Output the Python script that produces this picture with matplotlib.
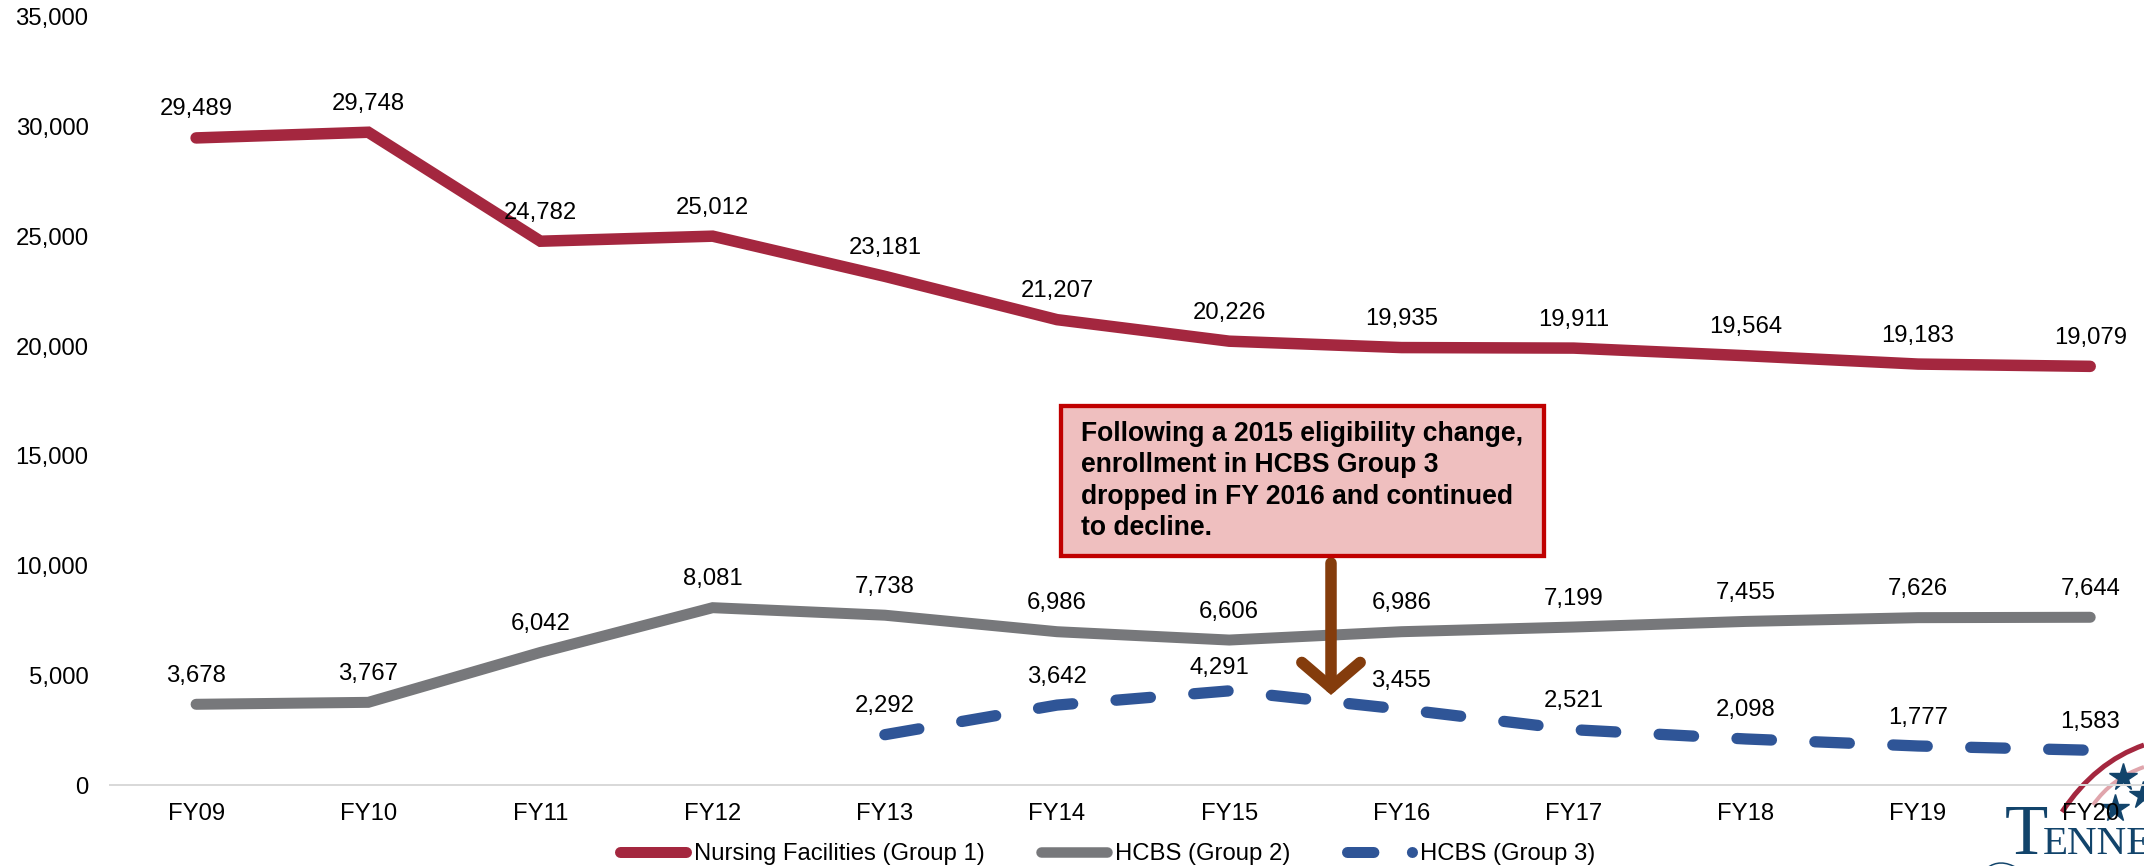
import matplotlib
matplotlib.use('Agg')
import matplotlib.pyplot as plt
from matplotlib.lines import Line2D
from matplotlib.patches import Rectangle, PathPatch
from matplotlib.path import Path

plt.rcParams['font.family'] = ['Liberation Sans', 'DejaVu Sans']

W, H = 2144, 866

years = ['FY09', 'FY10', 'FY11', 'FY12', 'FY13', 'FY14', 'FY15', 'FY16', 'FY17', 'FY18', 'FY19', 'FY20']
nursing = [29489, 29748, 24782, 25012, 23181, 21207, 20226, 19935, 19911, 19564, 19183, 19079]
hcbs2 = [3678, 3767, 6042, 8081, 7738, 6986, 6606, 6986, 7199, 7455, 7626, 7644]
hcbs3_years = years[4:]
hcbs3 = [2292, 3642, 4291, 3455, 2521, 2098, 1777, 1583]
yticks = [0, 5000, 10000, 15000, 20000, 25000, 30000, 35000]

RED = '#A4273F'
GRAY = '#77787B'
BLUE = '#2F5597'
NAVY = '#12446B'


def px(x, y):
    # full size pixel position to figure fraction
    return x / W, 1 - y / H


fig = plt.figure(figsize=(W / 100, H / 100), dpi=100)
ax = fig.add_axes([110 / W, 1 - 785 / H, (W - 110) / W, 768 / H])
ax.patch.set_visible(False)
xpos = list(range(len(years)))
ax.set_xlim(-0.5, (W - 196) / 172.2)
ax.set_ylim(0, 35000)

pxlw = 72 / 100  # one pixel in points
ax.plot(xpos, nursing, color=RED, lw=11.5 * pxlw, solid_capstyle='round', solid_joinstyle='miter', zorder=3)
ax.plot(xpos, hcbs2, color=GRAY, lw=11 * pxlw, solid_capstyle='round', solid_joinstyle='miter', zorder=3)
ax.plot(xpos[4:], hcbs3, color=BLUE, lw=11.3 * pxlw, dash_capstyle='round', dashes=(3.05, 3.85), zorder=3)

for x, v in zip(xpos, nursing):
    ax.annotate(f'{v:,}', (x, v), xytext=(0, 28.5 * pxlw), textcoords='offset points',
                ha='center', va='center', fontsize=17.2, color='black', zorder=5)
for x, v in zip(xpos, hcbs2):
    ax.annotate(f'{v:,}', (x, v), xytext=(0, 28.5 * pxlw), textcoords='offset points',
                ha='center', va='center', fontsize=17.2, color='black', zorder=5)
for x, v in zip(xpos[4:], hcbs3):
    # the FY15 label was nudged by hand in the original
    dx, dy = (-10, 23) if v == 4291 else (0, 28.5)
    ax.annotate(f'{v:,}', (x, v), xytext=(dx * pxlw, dy * pxlw), textcoords='offset points',
                ha='center', va='center', fontsize=17.2, color='black', zorder=5)

ax.set_xticks(xpos)
ax.set_xticklabels(years, fontsize=17.2, zorder=6)
ax.set_yticks(yticks)
ax.set_yticklabels([f'{t:,}' for t in yticks], fontsize=17.2)
ax.tick_params(axis='both', length=0)
ax.tick_params(axis='x', pad=13)
ax.tick_params(axis='y', pad=15.5)
for side in ['top', 'left', 'right']:
    ax.spines[side].set_visible(False)
ax.spines['bottom'].set_color('#D9D9D9')
ax.spines['bottom'].set_linewidth(2 * pxlw)

# callout box
box_x, box_y = px(1061, 556)
fig.add_artist(Rectangle((box_x, box_y), 483 / W, 150 / H, transform=fig.transFigure,
                         facecolor='#EFBFBF', edgecolor='#C00000', lw=4.3 * pxlw, zorder=7))
tx, ty = px(1081, 421)
fig.text(tx, ty, 'Following a 2015 eligibility change,\nenrollment in HCBS Group 3\n'
         'dropped in FY 2016 and continued\nto decline.',
         fontsize=19.1, fontweight='bold', ha='left', va='top', linespacing=1.27, color='black', zorder=8)

# arrow from the box down to the FY16 drop
tail = px(1331, 563)
tip = px(1331, 695)
ax.annotate('', xy=tip, xytext=tail, xycoords='figure fraction', textcoords='figure fraction',
            arrowprops=dict(arrowstyle='->,head_length=0.9,head_width=1.05', color='#843C0C',
                            lw=11.5 * pxlw, shrinkA=0, shrinkB=0, capstyle='round', joinstyle='miter',
                            mutation_scale=20), zorder=6)

# logo in the bottom right corner, cut off by the slide edge
for pts, col, lw in [([(2062, 812), (2095, 762), (2144, 745)], '#A4273F', 5),
                     ([(2093, 805), (2112, 778), (2144, 767)], '#E0A5AC', 4),
                     ([(1987, 868), (2000, 858), (2017, 868)], NAVY, 1.5)]:
    path = Path(pts, [Path.MOVETO, Path.CURVE3, Path.CURVE3])
    verts = [px(*p) for p in path.vertices]
    fig.add_artist(PathPatch(Path(verts, path.codes), transform=fig.transFigure, fill=False,
                             edgecolor=col, lw=lw * pxlw, zorder=-1))
for sx, sy in [(2123, 777), (2115, 808), (2143, 795)]:
    fig.add_artist(Line2D([sx / W], [1 - sy / H], marker='*', ms=22 * pxlw * 1.3, color=NAVY,
                          transform=fig.transFigure, zorder=-1, ls='none'))
fig.text(2005 / W, 1 - 854 / H, 'T', fontfamily='Liberation Serif', fontsize=51, color=NAVY,
         ha='left', va='baseline', zorder=-1)
fig.text(2043 / W, 1 - 854 / H, 'ENNE', fontfamily='Liberation Serif', fontsize=29.5, color=NAVY,
         ha='left', va='baseline', zorder=-1)

handles = [Line2D([], [], color=RED, lw=11 * pxlw, solid_capstyle='round'),
           Line2D([], [], color=GRAY, lw=10.5 * pxlw, solid_capstyle='round'),
           Line2D([], [], color=BLUE, lw=11 * pxlw, dash_capstyle='round', dashes=(2.4, 3.5))]
fig.legend(handles, ['Nursing Facilities (Group 1)', 'HCBS (Group 2)', 'HCBS (Group 3)'],
           loc='center left', bbox_to_anchor=px(620, 854), ncol=3, frameon=False, fontsize=17.2,
           borderpad=0, borderaxespad=0, handlelength=2.76, handletextpad=0.33, columnspacing=2.36)

fig.savefig('out.png', dpi=100)
